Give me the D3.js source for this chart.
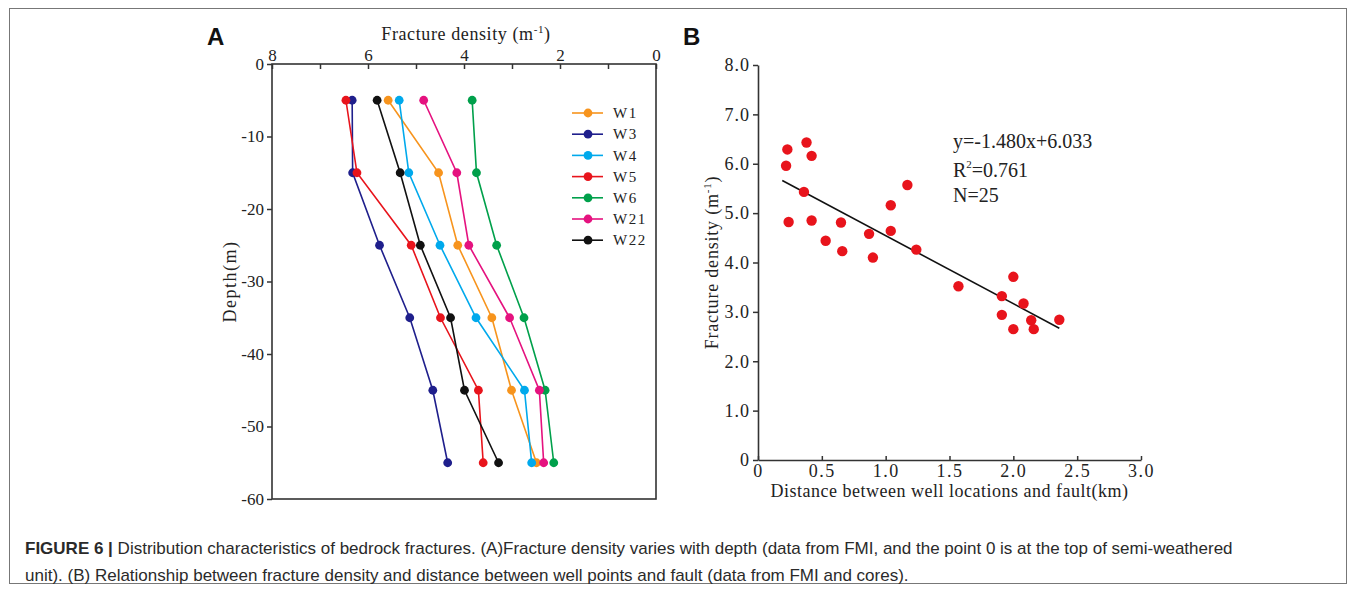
<!DOCTYPE html>
<html>
<head>
<meta charset="utf-8">
<script src="https://cdn.jsdelivr.net/npm/d3@7"></script>
<style>
  body { margin: 0; background: #fff; }
  svg { display: block; }
  text { font-family: "Liberation Serif", "Times New Roman", serif; fill: #222; }
  .cap, .panel { font-family: "Liberation Sans", Arial, sans-serif; }
  .cap { fill: #2a2a2a; }
  .panel { fill: #111; font-weight: bold; }
</style>
</head>
<body>
<svg id="chart" width="1355" height="591"></svg>
<script>
// ---- panel A data: fracture density (m-1) at each depth (m) ----
const depths = [-5, -15, -25, -35, -45, -55];
const wells = ["W1", "W3", "W4", "W5", "W6", "W21", "W22"];
const wellColors = ["#f7941d", "#1f1f8c", "#00a9ec", "#e8141c", "#00a04b", "#e5127f", "#111111"];
const densityW1  = [5.58, 4.53, 4.13, 3.42, 3.01, 2.49];
const densityW3  = [6.33, 6.32, 5.76, 5.13, 4.65, 4.34];
const densityW4  = [5.35, 5.15, 4.50, 3.75, 2.74, 2.59];
const densityW5  = [6.46, 6.23, 5.10, 4.49, 3.70, 3.60];
const densityW6  = [3.83, 3.74, 3.32, 2.75, 2.31, 2.13];
const densityW21 = [4.84, 4.15, 3.90, 3.05, 2.43, 2.34];
const densityW22 = [5.81, 5.33, 4.91, 4.28, 3.99, 3.28];
const densityByWell = [densityW1, densityW3, densityW4, densityW5, densityW6, densityW21, densityW22];
const densityTicksA = [8, 7, 6, 5, 4, 3, 2, 1, 0];
const depthTicks = [0, -10, -20, -30, -40, -50, -60];

// ---- panel B data: distance to fault (km) vs fracture density ----
const distance = [0.23, 0.38, 0.42, 0.22, 0.36, 0.24, 0.42, 0.53, 0.65, 0.66, 0.87, 0.90, 1.04,
                  1.04, 1.17, 1.24, 1.57, 1.91, 2.00, 2.08, 1.91, 2.14, 2.36, 2.00, 2.16];
const densityB = [6.29, 6.43, 6.16, 5.96, 5.43, 4.82, 4.85, 4.44, 4.81, 4.23, 4.58, 4.10, 5.16,
                  4.64, 5.57, 4.26, 3.52, 3.32, 3.71, 3.17, 2.94, 2.83, 2.84, 2.65, 2.65];
const fitLineX = [0.19, 2.36];
const fitLineY = [5.66, 2.67];
const distTicks = [0, 0.5, 1.0, 1.5, 2.0, 2.5, 3.0];
const densTicksB = [0, 1, 2, 3, 4, 5, 6, 7, 8];
const equationLabel = "y=-1.480x+6.033";
const r2Label = "0.761";
const nLabel = "N=25";

const svg = d3.select("#chart");

// figure frame
svg.append("rect").attr("x", 9.5).attr("y", 8.5).attr("width", 1337).attr("height", 575)
  .attr("fill", "none").attr("stroke", "#777").attr("stroke-width", 1);

// ================= Panel A =================
const xA = d3.scaleLinear([8, 0], [272, 656]);
const yA = d3.scaleLinear([0, -60], [64, 499]);

const gA = svg.append("g");

gA.append("g")
  .attr("transform", `translate(0,${yA(0)})`)
  .call(d3.axisTop(xA).tickValues(densityTicksA).tickSizeInner(-5).tickSizeOuter(0).tickPadding(3)
    .tickFormat(d => d % 2 === 0 ? d : ""))
  .call(g => g.select(".domain").remove())
  .call(g => g.selectAll("line").attr("stroke", "#333").attr("stroke-width", 1.5))
  .call(g => g.selectAll("text").attr("font-size", 17).attr("font-family", null).attr("fill", "#222"));

gA.append("g")
  .attr("transform", `translate(${xA(8)},0)`)
  .call(d3.axisLeft(yA).tickValues(depthTicks).tickSizeInner(5).tickSizeOuter(0).tickPadding(3)
    .tickFormat(d => String(d)))
  .call(g => g.select(".domain").remove())
  .call(g => g.selectAll("line").attr("stroke", "#333").attr("stroke-width", 1.5))
  .call(g => g.selectAll("text").attr("font-size", 17).attr("font-family", null).attr("fill", "#222"));

gA.append("rect")
  .attr("x", xA(8)).attr("y", yA(0))
  .attr("width", xA(0) - xA(8)).attr("height", yA(-60) - yA(0))
  .attr("fill", "none").attr("stroke", "#333").attr("stroke-width", 1.6);

const lineA = d3.line().x(d => xA(d[0])).y(d => yA(d[1]));
wells.forEach((w, i) => {
  const pts = densityByWell[i].map((v, j) => [v, depths[j]]);
  const g = gA.append("g");
  g.append("path").datum(pts).attr("d", lineA)
    .attr("fill", "none").attr("stroke", wellColors[i]).attr("stroke-width", 1.6);
  g.selectAll("circle").data(pts).join("circle")
    .attr("cx", d => xA(d[0])).attr("cy", d => yA(d[1])).attr("r", 4.4)
    .attr("fill", wellColors[i]);
});

// legend
const legA = gA.append("g").attr("transform", "translate(572,113)");
wells.forEach((w, i) => {
  const row = legA.append("g").attr("transform", `translate(0,${i * 21.2})`);
  row.append("line").attr("x1", 0).attr("x2", 31).attr("stroke", wellColors[i]).attr("stroke-width", 1.6);
  row.append("circle").attr("cx", 16).attr("r", 4.4).attr("fill", wellColors[i]);
  row.append("text").attr("x", 41).attr("dy", "0.35em").attr("font-size", 15)
    .attr("letter-spacing", 1.5).text(w);
});

// titles
const tA = gA.append("text").attr("x", (xA(8) + xA(0)) / 2 + 2).attr("y", 40)
  .attr("text-anchor", "middle").attr("font-size", 18).attr("letter-spacing", 0.6);
tA.append("tspan").text("Fracture density (m");
tA.append("tspan").attr("font-size", 11).attr("dy", -7).text("-1");
tA.append("tspan").attr("dy", 7).text(")");

gA.append("text")
  .attr("transform", `translate(236,${(yA(0) + yA(-60)) / 2}) rotate(-90)`)
  .attr("text-anchor", "middle").attr("font-size", 18).attr("letter-spacing", 1.5)
  .text("Depth(m)");

svg.append("text").attr("class", "panel").attr("x", 207).attr("y", 45)
  .attr("font-size", 24).text("A");

// ================= Panel B =================
const xB = d3.scaleLinear([0, 3], [758, 1141]);
const yB = d3.scaleLinear([0, 8], [460, 65]);
const gB = svg.append("g");

gB.append("g")
  .attr("transform", `translate(0,${yB(0)})`)
  .call(d3.axisBottom(xB).tickValues(distTicks).tickSizeInner(-4).tickSizeOuter(0).tickPadding(4)
    .tickFormat(d => d === 0 ? "0" : d3.format(".1f")(d)))
  .call(g => g.select(".domain").attr("stroke", "#333").attr("stroke-width", 1.6))
  .call(g => g.selectAll(".tick line").attr("stroke", "#333").attr("stroke-width", 1.5))
  .call(g => g.selectAll("text").attr("font-size", 18).attr("font-family", null)
    .attr("fill", "#222").attr("letter-spacing", 1.5));

gB.append("g")
  .attr("transform", `translate(${xB(0)},0)`)
  .call(d3.axisLeft(yB).tickValues(densTicksB).tickSizeInner(5).tickSizeOuter(0).tickPadding(3)
    .tickFormat(d => d === 0 ? "0" : d3.format(".1f")(d)))
  .call(g => g.select(".domain").attr("stroke", "#333").attr("stroke-width", 1.6))
  .call(g => g.selectAll(".tick line").attr("stroke", "#333").attr("stroke-width", 1.5))
  .call(g => g.selectAll("text").attr("font-size", 18).attr("font-family", null)
    .attr("fill", "#222").attr("letter-spacing", 1));

gB.append("path")
  .datum(fitLineX.map((v, i) => [v, fitLineY[i]]))
  .attr("d", d3.line().x(d => xB(d[0])).y(d => yB(d[1])))
  .attr("fill", "none").attr("stroke", "#111").attr("stroke-width", 1.6);

gB.selectAll("circle.pt").data(distance.map((v, i) => [v, densityB[i]])).join("circle")
  .attr("class", "pt")
  .attr("cx", d => xB(d[0])).attr("cy", d => yB(d[1])).attr("r", 5.2)
  .attr("fill", "#e8141c");

gB.append("text").attr("x", 953).attr("y", 148).attr("font-size", 20).text(equationLabel);
const r2 = gB.append("text").attr("x", 953).attr("y", 177).attr("font-size", 20);
r2.append("tspan").text("R");
r2.append("tspan").attr("font-size", 11).attr("dy", -9).text("2");
r2.append("tspan").attr("dy", 9).text("=" + r2Label);
gB.append("text").attr("x", 953).attr("y", 202).attr("font-size", 20).text(nLabel);

gB.append("text").attr("x", (xB(0) + xB(3)) / 2).attr("y", 497)
  .attr("text-anchor", "middle").attr("font-size", 18).attr("letter-spacing", 0.5)
  .text("Distance between well locations and fault(km)");

const tB = gB.append("text")
  .attr("transform", `translate(718,${(yB(0) + yB(8)) / 2}) rotate(-90)`)
  .attr("text-anchor", "middle").attr("font-size", 18).attr("letter-spacing", 0.8);
tB.append("tspan").text("Fracture density (m");
tB.append("tspan").attr("font-size", 11).attr("dy", -7).text("-1");
tB.append("tspan").attr("dy", 7).text(")");

svg.append("text").attr("class", "panel").attr("x", 683).attr("y", 45)
  .attr("font-size", 24).text("B");

// ================= caption =================
const c1 = svg.append("text").attr("class", "cap").attr("x", 25).attr("y", 554).attr("font-size", 17);
c1.append("tspan").attr("font-weight", "bold").text("FIGURE 6 |");
c1.append("tspan").text(" Distribution characteristics of bedrock fractures. (A)Fracture density varies with depth (data from FMI, and the point 0 is at the top of semi-weathered");
svg.append("text").attr("class", "cap").attr("x", 25).attr("y", 581).attr("font-size", 17)
  .text("unit). (B) Relationship between fracture density and distance between well points and fault (data from FMI and cores).");
</script>
</body>
</html>
